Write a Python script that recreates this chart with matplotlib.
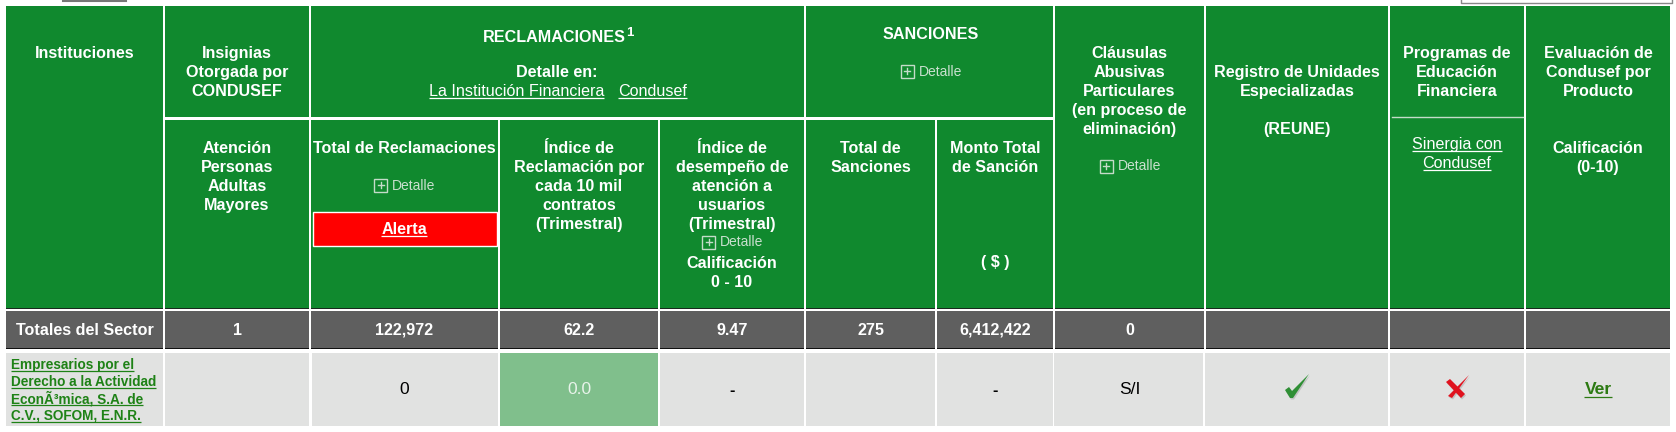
import matplotlib
matplotlib.use('Agg')
import matplotlib.pyplot as plt
from matplotlib.patches import Rectangle

plt.rcParams['font.family'] = ['Liberation Sans', 'DejaVu Sans']

# textos de la tabla
encabezados_arriba = [
    ['Instituciones'],
    ['Insignias', 'Otorgada por', 'CONDUSEF'],
    None,
    None,
    None,
    None,
    None,
    ['Cláusulas', 'Abusivas', 'Particulares', '(en proceso de', 'eliminación)'],
    ['Registro de Unidades', 'Especializadas', '', '(REUNE)'],
    ['Programas de', 'Educación', 'Financiera'],
    ['Evaluación de', 'Condusef por', 'Producto'],
]
encabezados_abajo = [
    None,
    ['Atención', 'Personas', 'Adultas', 'Mayores'],
    ['Total de Reclamaciones'],
    ['Índice de', 'Reclamación por', 'cada 10 mil', 'contratos', '(Trimestral)'],
    ['Índice de', 'desempeño de', 'atención a', 'usuarios', '(Trimestral)'],
    ['Total de', 'Sanciones'],
    ['Monto Total', 'de Sanción'],
    None,
    None,
    None,
    ['Calificación', '(0-10)'],
]
totales = ['Totales del Sector', '1', '122,972', '62.2', '9.47', '275', '6,412,422', '0', '', '', '']
institucion = ['Empresarios por el', 'Derecho a la Actividad', 'EconÃ³mica, S.A. de', 'C.V., SOFOM, E.N.R.']
fila = ['', '', '0', '0.0', '-', '', '-', 'S/I', '', '', 'Ver']
sinergia = ['Sinergia con', 'Condusef']

# layout en pixeles
izq = [6, 165, 311, 500, 660, 806, 937, 1055, 1206, 1390, 1526]
der = [163, 309, 497.5, 658, 804, 935, 1053, 1204, 1388, 1524, 1670]
centro = [(a + b) / 2 for a, b in zip(izq, der)]
# la ultima fila tiene las columnas un poco corridas
izq_fila = [6, 165, 312, 500, 660, 806, 937, 1054, 1205, 1390, 1526]
der_fila = [163, 309, 497.5, 658, 804, 935, 1053, 1203, 1388, 1524, 1670]

VERDE = '#10892E'
GRIS = '#5F5F5F'
CLARO = '#E1E2E1'
VERDE_CLARO = '#80BF8C'
LINK = '#1E8216'

fig = plt.figure(figsize=(16.76, 4.32), dpi=100)
ax = fig.add_axes([0, 0, 1, 1])
ax.set_xlim(0, 1676)
ax.set_ylim(432, 0)
ax.axis('off')


def caja(x0, x1, y0, y1, color, **kw):
    ax.add_patch(Rectangle((x0, y0), x1 - x0, y1 - y0, facecolor=color, linewidth=0, **kw))


def texto(x, y, s, size=11.6, peso='bold', color='white', ha='center', subrayado=False):
    t = ax.text(x, y, s, fontsize=size, fontweight=peso, color=color, ha=ha, va='baseline')
    if subrayado:
        bb = t.get_window_extent(fig.canvas.get_renderer())
        ax.plot([bb.x0, bb.x1], [y + 2, y + 2], color=color, lw=0.9, solid_capstyle='butt')
    return t


def lineas(x, y, filas, paso=19, **kw):
    for i, s in enumerate(filas):
        texto(x, y + i * paso, s, **kw)


def detalle(cx, cy):
    # cuadrito con + y la palabra Detalle
    x0 = cx - 30
    ax.add_patch(Rectangle((x0, cy - 6.5), 13, 13, facecolor='none', edgecolor='#C4DCC9', linewidth=1))
    ax.plot([x0 + 3.5, x0 + 9.5], [cy, cy], color='#C4DCC9', lw=1)
    ax.plot([x0 + 6.5, x0 + 6.5], [cy - 3, cy + 3], color='#C4DCC9', lw=1)
    texto(x0 + 18, cy + 4.5, 'Detalle', size=10, peso='normal', color='#C9E0CE', ha='left')


# restos de la pagina arriba
ax.plot([63, 126], [0.5, 0.5], color='#777777', lw=1.5)
ax.plot([1461, 1461, 1671.5, 1671.5], [0, 3, 3, 0], color='#888888', lw=1)

# bloque verde del encabezado
caja(izq[0], der[0], 6, 308, VERDE)
for i in [1, 2, 3, 4, 5, 6]:
    caja(izq[i], der[i], 120, 308, VERDE)
caja(izq[1], der[1], 6, 117, VERDE)
caja(izq[2], der[4], 6, 117, VERDE)
caja(izq[5], der[6], 6, 117, VERDE)
for i in [7, 8, 9, 10]:
    caja(izq[i], der[i], 6, 308, VERDE)

# fila de totales y fila de la institucion
for i in range(11):
    caja(izq[i], der[i], 308, 309, '#1A2A1E')
    caja(izq[i], der[i], 311, 348, GRIS)
    caja(izq[i], der[i], 348, 349.3, '#111111')
    caja(izq_fila[i], der_fila[i], 353, 426, VERDE_CLARO if i == 3 else CLARO)

# encabezados
for i, filas in enumerate(encabezados_arriba):
    if filas is None:
        continue
    y = 77 if i == 8 else 58
    lineas(centro[i], y, filas)
for i, filas in enumerate(encabezados_abajo):
    if filas is not None:
        lineas(centro[i], 153, filas)

texto(626, 41.5, 'RECLAMACIONES', ha='right')
texto(626.5, 36.5, '1', size=9.5, ha='left')
texto(557, 77, 'Detalle en:')
texto(429, 96, 'La Institución Financiera', peso='normal', ha='left', subrayado=True)
texto(618, 96, 'Condusef', peso='normal', ha='left', subrayado=True)
texto(centro[5] + 60, 39, 'SANCIONES')
detalle(centro[5] + 60, 71)

detalle(centro[2], 185)
ax.add_patch(Rectangle((312.5, 212), 184.5, 34, facecolor='#FF0000', edgecolor='white', linewidth=1))
texto(centro[2], 234, 'Alerta', subrayado=True)

detalle(centro[4], 242)
texto(centro[4], 268, 'Calificación')
texto(centro[4], 287, '0 - 10')
texto(centro[6], 267, '( $ )')
detalle(centro[7], 166)

ax.plot([1392, 1523], [117, 117], color='#C4DCC9', lw=1)
lineas(centro[9], 149, sinergia, peso='normal', subrayado=True)

for i, s in enumerate(totales):
    if s:
        texto(centro[i], 334.6, s)

# fila de datos
lineas(11, 369, institucion, paso=17, size=9.85, color=LINK, ha='left', subrayado=True)
texto(centro[2], 394.5, fila[2], size=12.6, peso='normal', color='black')
texto(centro[3], 394.5, fila[3], size=12.6, peso='normal', color='#E8F3EA')
texto(centro[4], 394.5, fila[4], color='black')
texto(centro[6], 394.5, fila[6], color='black')
texto(centro[7], 394.5, fila[7], size=12.6, peso='normal', color='black')
texto(centro[10], 394.5, fila[10], size=12.6, color='#2C7A12', subrayado=True)

# palomita y tache, con su sombrita
pal_x = [1285, 1289, 1292, 1309, 1293, 1290]
pal_y = [390, 387, 391, 374, 398, 398]
ax.fill([x + 1 for x in pal_x], [y + 1.5 for y in pal_y], color='#888888', alpha=0.35, lw=0)
ax.fill(pal_x, pal_y, color='#2F8F35', lw=0)
tache_a = ([1469, 1452, 1448], [375, 398, 396])
tache_b = ([1446, 1450, 1465, 1461], [382, 379, 394, 398])
for xs, ys in (tache_a, tache_b):
    ax.fill([x + 1 for x in xs], [y + 1.5 for y in ys], color='#888888', alpha=0.35, lw=0)
for xs, ys in (tache_a, tache_b):
    ax.fill(xs, ys, color='#E0121E', lw=0)

fig.savefig('out.png', dpi=100)
